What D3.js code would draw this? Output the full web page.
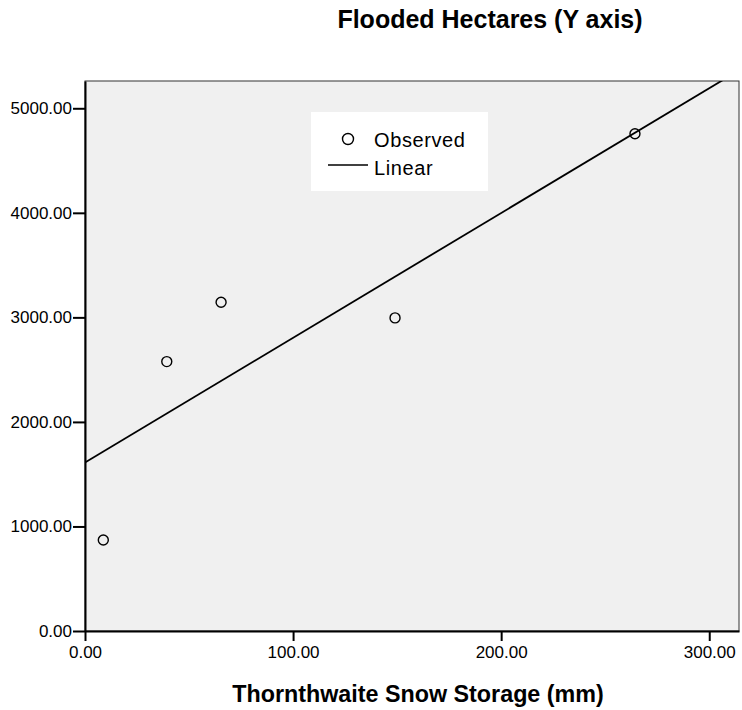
<!DOCTYPE html>
<html>
<head>
<meta charset="utf-8">
<script src="https://cdn.jsdelivr.net/npm/d3@7"></script>
<style>
  html, body { margin: 0; padding: 0; background: #fff; }
  svg { display: block; }
  text { font-family: Arial, "Liberation Sans", sans-serif; fill: #000; }
</style>
</head>
<body>
<svg id="chart" width="742" height="710"></svg>
<script>
// Observed values: snow storage (mm) vs flooded hectares
const snowStorage = [8.8, 39.3, 65.4, 149.0, 264.3];
const floodedHectares = [870, 2577, 3145, 2995, 4756];
const xTicks = [0, 100, 200, 300];
const yTicks = [0, 1000, 2000, 3000, 4000, 5000];
const legendLabels = ["Observed", "Linear"];

const width = 742, height = 710;
const plot = { left: 85, top: 81, right: 739, bottom: 631 };

const svg = d3.select("#chart");

const x = d3.scaleLinear().domain([0, 314.3]).range([plot.left, plot.right]);
const y = d3.scaleLinear().domain([0, 5261]).range([plot.bottom, plot.top]);

// Plot background and frame
svg.append("rect")
  .attr("x", plot.left).attr("y", plot.top)
  .attr("width", plot.right - plot.left).attr("height", plot.bottom - plot.top)
  .attr("fill", "#f0f0f0").attr("stroke", "#333").attr("stroke-width", 1);

// Least-squares fit
const mx = d3.mean(snowStorage), my = d3.mean(floodedHectares);
let sxy = 0, sxx = 0;
snowStorage.forEach((v, i) => { sxy += (v - mx) * (floodedHectares[i] - my); sxx += (v - mx) ** 2; });
const slope = sxy / sxx, intercept = my - slope * mx;

svg.append("clipPath").attr("id", "clip").append("rect")
  .attr("x", plot.left).attr("y", plot.top)
  .attr("width", plot.right - plot.left).attr("height", plot.bottom - plot.top);

const x0 = 0, x1 = x.domain()[1];
svg.append("line")
  .attr("clip-path", "url(#clip)")
  .attr("x1", x(x0)).attr("y1", y(intercept + slope * x0))
  .attr("x2", x(x1)).attr("y2", y(intercept + slope * x1))
  .attr("stroke", "#000").attr("stroke-width", 1.8);

// Observed points
svg.append("g").selectAll("circle")
  .data(snowStorage.map((v, i) => [v, floodedHectares[i]]))
  .join("circle")
  .attr("cx", d => x(d[0])).attr("cy", d => y(d[1]))
  .attr("r", 5).attr("fill", "none").attr("stroke", "#000").attr("stroke-width", 1.4);

// Axes
const fmt = d3.format(".2f");
const yAxis = svg.append("g")
  .attr("transform", `translate(${plot.left},0)`)
  .call(d3.axisLeft(y).tickValues(yTicks).tickFormat(fmt).tickSize(12).tickSizeOuter(0).tickPadding(1));
const xAxis = svg.append("g")
  .attr("transform", `translate(0,${plot.bottom})`)
  .call(d3.axisBottom(x).tickValues(xTicks).tickFormat(fmt).tickSize(10).tickSizeOuter(0).tickPadding(5));

[yAxis, xAxis].forEach(g => {
  g.select(".domain").attr("stroke", "#000").attr("stroke-width", 2);
  g.selectAll(".tick line").attr("stroke", "#000").attr("stroke-width", 2);
  g.selectAll(".tick text").attr("font-size", 17).attr("font-family", "Arial, 'Liberation Sans', sans-serif").attr("fill", "#222");
});

// Titles
svg.append("text")
  .attr("x", 490).attr("y", 28)
  .attr("text-anchor", "middle")
  .attr("font-size", 25).attr("font-weight", "bold")
  .text("Flooded Hectares (Y axis)");

svg.append("text")
  .attr("x", 418).attr("y", 702)
  .attr("text-anchor", "middle")
  .attr("font-size", 23.3).attr("font-weight", "bold")
  .text("Thornthwaite Snow Storage (mm)");

// Legend
const legend = svg.append("g");
legend.append("rect")
  .attr("x", 311).attr("y", 112).attr("width", 177).attr("height", 79)
  .attr("fill", "#fff");
legend.append("circle")
  .attr("cx", 348).attr("cy", 139).attr("r", 5.5)
  .attr("fill", "none").attr("stroke", "#000").attr("stroke-width", 1.4);
legend.append("line")
  .attr("x1", 328).attr("x2", 368).attr("y1", 165).attr("y2", 165)
  .attr("stroke", "#000").attr("stroke-width", 1.5);
legend.selectAll("text.lbl")
  .data(legendLabels)
  .join("text")
  .attr("class", "lbl")
  .attr("x", 374).attr("y", (d, i) => 147 + i * 28)
  .attr("font-size", 20).attr("letter-spacing", 0.6).attr("fill", "#222")
  .text(d => d);
</script>
</body>
</html>
